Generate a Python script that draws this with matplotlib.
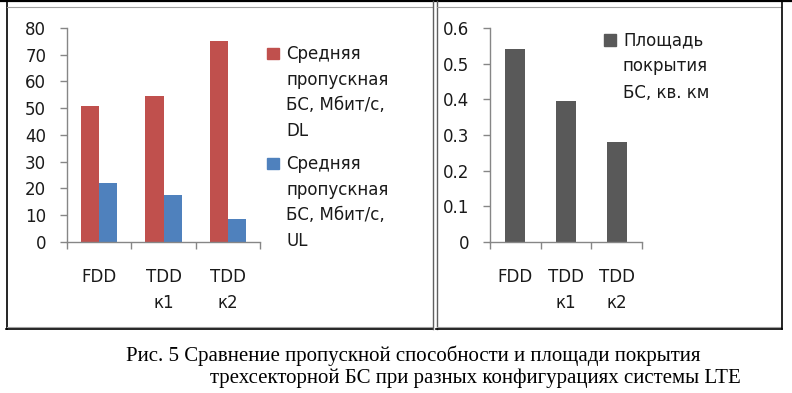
import matplotlib.pyplot as plt
from matplotlib.lines import Line2D
import numpy as np

# Data
categories = ["FDD", "TDD\nк1", "TDD\nк2"]
dl_values = [50.7, 54.7, 75.0]
ul_values = [22.0, 17.5, 8.5]
area_values = [0.54, 0.395, 0.28]
dl_label = "Средняя\nпропускная\nБС, Мбит/с,\nDL"
ul_label = "Средняя\nпропускная\nБС, Мбит/с,\nUL"
area_label = "Площадь\nпокрытия\nБС, кв. км"
caption_1 = "Рис. 5 Сравнение пропускной способности и площади покрытия"
caption_2 = "трехсекторной БС при разных конфигурациях системы LTE"

plt.rcParams['font.family'] = ['DejaVu Sans']

W, H = 792, 393
fig = plt.figure(figsize=(W / 100, H / 100), dpi=100, facecolor='white')

def px(x0, y0, x1, y1):
    """Figure rect from pixel box (top-left origin)."""
    return [x0 / W, 1 - y1 / H, (x1 - x0) / W, (y1 - y0) / H]

axis_grey = '#868686'
text_col = '#1a1a1a'
fs = 12

def style_axes(ax, ymax, yticks, fmt):
    ax.set_xlim(-0.5, 2.5)
    ax.set_ylim(0, ymax)
    for s in ['top', 'right']:
        ax.spines[s].set_visible(False)
    for s in ['left', 'bottom']:
        ax.spines[s].set_color(axis_grey)
        ax.spines[s].set_linewidth(1.0)
    ax.set_yticks(yticks)
    ax.set_yticklabels([fmt(v) for v in yticks], fontsize=fs, color=text_col)
    ax.tick_params(axis='y', direction='out', length=5, width=1, color=axis_grey, pad=10)
    ax.set_xticks([0, 1, 2])
    ax.set_xticklabels(categories, fontsize=fs, color=text_col, linespacing=1.55)
    ax.set_xticks([-0.5, 0.5, 1.5, 2.5], minor=True)
    ax.tick_params(axis='x', which='major', length=0, pad=19)
    ax.tick_params(axis='x', which='minor', direction='out', length=5, width=1, color=axis_grey)

# Left chart: throughput
ax1 = fig.add_axes(px(67, 28, 260, 242))
x = np.arange(len(categories))
w = 0.28
ax1.bar(x - w / 2, dl_values, width=w, color='#C0504D')
ax1.bar(x + w / 2, ul_values, width=w, color='#4F81BD')
style_axes(ax1, 80, list(range(0, 81, 10)), lambda v: f"{v}")

# legend of left chart
fig.add_artist(plt.Rectangle((267 / W, 1 - 59 / H), 12 / W, 11 / H, color='#C0504D', transform=fig.transFigure))
fig.text(286 / W, 1 - 45 / H, dl_label, fontsize=fs, color=text_col, va='top', ha='left', linespacing=1.55)
fig.add_artist(plt.Rectangle((267 / W, 1 - 169 / H), 12 / W, 11 / H, color='#4F81BD', transform=fig.transFigure))
fig.text(286 / W, 1 - 155 / H, ul_label, fontsize=fs, color=text_col, va='top', ha='left', linespacing=1.55)

# Right chart: coverage area
ax2 = fig.add_axes(px(490, 28, 642, 242))
ax2.bar(x, area_values, width=0.39, color='#595959')
style_axes(ax2, 0.6, [0, 0.1, 0.2, 0.3, 0.4, 0.5, 0.6], lambda v: "0" if v == 0 else f"{v:.1f}")

fig.add_artist(plt.Rectangle((604 / W, 1 - 46 / H), 12 / W, 12 / H, color='#595959', transform=fig.transFigure))
fig.text(623 / W, 1 - 31 / H, area_label, fontsize=fs, color=text_col, va='top', ha='left', linespacing=1.6)

# Frames around the panels
def hline(y, x0, x1, c, lw):
    fig.add_artist(Line2D([x0 / W, x1 / W], [1 - y / H, 1 - y / H], color=c, lw=lw))

def vline(x, y0, y1, c, lw):
    fig.add_artist(Line2D([x / W, x / W], [1 - y0 / H, 1 - y1 / H], color=c, lw=lw))

hline(1, 0, W, 'black', 1.6)
vline(6.5, 1, 329, 'black', 1.2)
hline(7, 7, 432, '#a0a0a0', 0.8)
hline(327, 7, 432, '#a0a0a0', 0.8)
hline(329, 6, 433, 'black', 1.2)
vline(432.5, 1, 329, '#606060', 1.0)
vline(436.5, 1, 329, '#606060', 1.0)
hline(7, 437, 781, '#a0a0a0', 0.8)
hline(327, 437, 781, '#a0a0a0', 0.8)
hline(329, 436, 782, 'black', 1.2)
vline(781.5, 1, 329, 'black', 1.2)

# Caption
fig.text(126 / W, 1 - 361 / H, caption_1, fontsize=15, family='Liberation Serif', va='baseline', ha='left')
fig.text(210 / W, 1 - 383 / H, caption_2, fontsize=15, family='Liberation Serif', va='baseline', ha='left')

plt.savefig('out.png', dpi=100, facecolor='white')
plt.close()
